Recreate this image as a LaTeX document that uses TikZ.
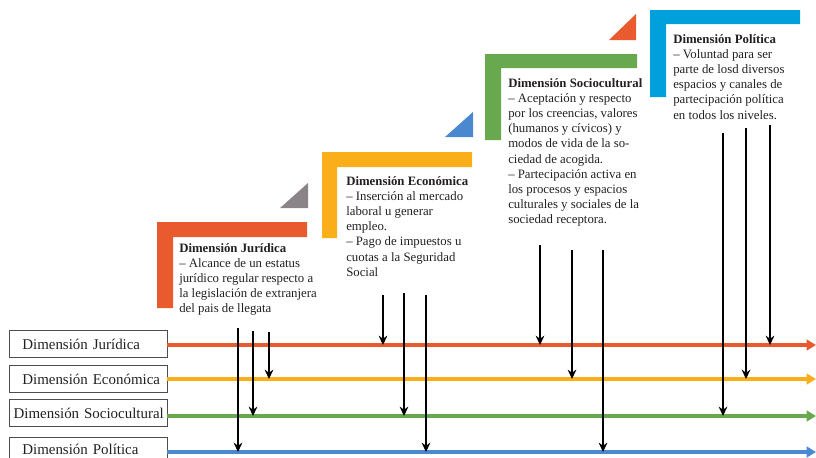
\documentclass[tikz,border=0pt]{standalone}
\usepackage{fontspec}
\setmainfont{Liberation Serif}
\usepackage{tikz}
\usetikzlibrary{arrows.meta, positioning, calc}

\definecolor{jurcol}{RGB}{233,90,47}
\definecolor{ecocol}{RGB}{249,174,26}
\definecolor{soccol}{RGB}{104,168,78}
\definecolor{polcol}{RGB}{0,160,220}
\definecolor{pollin}{RGB}{74,137,208}
\definecolor{tricol}{RGB}{138,132,137}
\definecolor{texto}{RGB}{35,31,32}

\tikzset{
  etiqueta/.style={draw=texto!80, line width=0.6pt, text width=98.5pt, align=left,
    inner xsep=10pt, minimum height=20pt, inner ysep=0pt,
    font=\fontsize{11.2}{13}\selectfont, text=texto},
  bloque/.style={anchor=north west, inner sep=0pt, align=left, text=texto,
    font=\fontsize{9.6}{11.4}\selectfont},
  linea/.style={line width=3pt, -{Triangle[length=7pt, width=8pt]}},
  flecha/.style={line width=1.5pt, black, -{Stealth[length=7pt, width=6.5pt]}}
}

\begin{document}
\begin{tikzpicture}[x=0.75pt, y=-0.75pt]
  \useasboundingbox (0,0) rectangle (816,457);

  % Escalones (ángulos de color)
  \fill[jurcol] (157,222) -- (307,222) -- (307,237) -- (173,237) -- (173,308) -- (157,308) -- cycle;
  \fill[ecocol] (322,152) -- (472,152) -- (472,167) -- (337,167) -- (337,238) -- (322,238) -- cycle;
  \fill[soccol] (485,54) -- (637,54) -- (637,68) -- (501,68) -- (501,140) -- (485,140) -- cycle;
  \fill[polcol] (650,10) -- (800,10) -- (800,24) -- (666,24) -- (666,97) -- (650,97) -- cycle;

  % Triángulos
  \fill[tricol] (280,208) -- (308,208) -- (308,183) -- cycle;
  \fill[pollin] (445,137) -- (473,137) -- (473,112) -- cycle;
  \fill[jurcol] (609,40) -- (636,40) -- (636,14) -- cycle;

  % Textos de cada dimensión
  \node[bloque] (tJur) at (179,243) {\textbf{Dimensión Jurídica}\\
    – Alcance de un estatus\\ jurídico regular respecto a\\
    la legislación de extranjera\\ del pais de llegata};
  \node[bloque] (tEco) at (346,176) {\textbf{Dimensión Económica}\\
    – Inserción al mercado\\ laboral u generar\\ empleo.\\
    – Pago de impuestos u\\ cuotas a la Seguridad\\ Social};
  \node[bloque] (tSoc) at (508,78) {\textbf{Dimensión Sociocultural}\\
    – Aceptación y respecto\\ por los creencias, valores\\
    (humanos y cívicos) y\\ modos de vida de la so-\\ ciedad de acogida.\\
    – Partecipación activa en\\ los procesos y espacios\\
    culturales y sociales de la\\ sociedad receptora.};
  \node[bloque] (tPol) at (673,34) {\textbf{Dimensión Política}\\
    – Voluntad para ser\\ parte de losd diversos\\ espacios y canales de\\
    partecipación política\\ en todos los niveles.};

  % Etiquetas de las líneas
  \node[etiqueta] (lJur) at (88,344) {\mbox{Dimensión Jurídica}};
  \node[etiqueta] (lEco) at (88,379) {\mbox{Dimensión Económica}};
  \node[etiqueta, text width=111.5pt, inner xsep=3.5pt] (lSoc) at (88,413) {\mbox{Dimensión Sociocultural}};
  \node[etiqueta, minimum height=18pt] (lPol) at (88,449) {\mbox{Dimensión Política}};

  \coordinate (fJur) at (816,345);
  \coordinate (fEco) at (816,379);
  \coordinate (fSoc) at (816,416);
  \coordinate (fPol) at (816,452);

  % Líneas de color
  \draw[linea, jurcol] (lJur.east |- fJur) -- (fJur);
  \draw[linea, ecocol] (lEco.east |- fEco) -- (fEco);
  \draw[linea, soccol] (lSoc.east |- fSoc) -- (fSoc);
  \draw[linea, pollin] (lPol.east |- fPol) -- (fPol);

  % Flechas verticales
  \foreach \n/\x/\y/\l in {a/238/328/fPol, b/253/331/fSoc, c/269/332/fEco,
      d/383/295/fJur, e/404/293/fSoc, f/426/295/fPol,
      g/540/245/fJur, h/572/250/fEco, i/603/250/fPol,
      j/723/133/fSoc, k/746/128/fEco, l/770/125/fJur}{
    \coordinate (s\n) at (\x,\y);
    \draw[flecha] (s\n) -- (s\n |- \l);
  }
\end{tikzpicture}
\end{document}
